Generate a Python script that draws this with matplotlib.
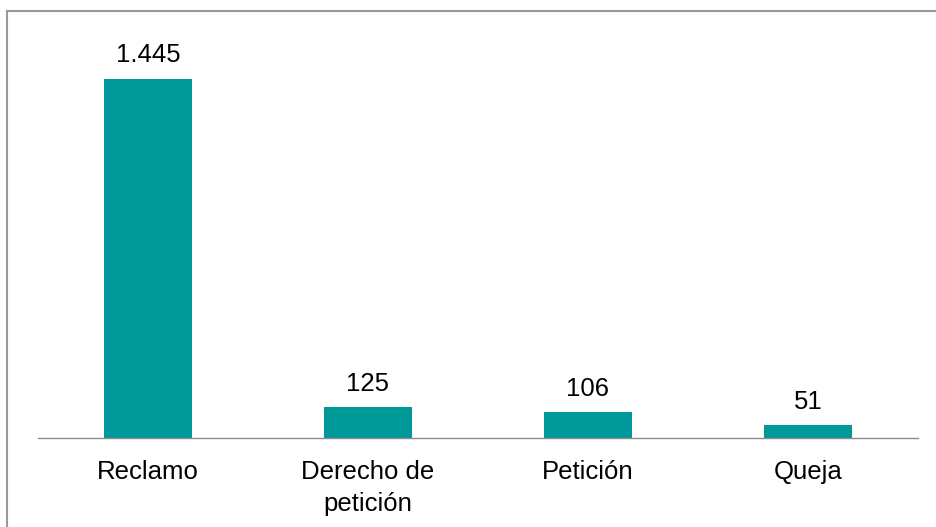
import matplotlib
matplotlib.use("Agg")
import matplotlib.pyplot as plt
from matplotlib.lines import Line2D

categories = ["Reclamo", "Derecho de\npetición", "Petición", "Queja"]
values = [1445, 125, 106, 51]
value_labels = ["1.445", "125", "106", "51"]

plt.rcParams['font.family'] = ['Liberation Sans', 'DejaVu Sans']

W, H = 936, 527
fig = plt.figure(figsize=(W/100, H/100), dpi=100)
ax = fig.add_axes([38/W, 1-438/H, 880/W, 398/H])

x = list(range(len(categories)))
ax.bar(x, values, width=0.4, color="#009999")
for xi, v, lab in zip(x, values, value_labels):
    ax.annotate(lab, (xi, v), xytext=(0, 8), textcoords="offset points",
                ha="center", va="bottom", fontsize=18.5, color="#000000")

ax.set_xlim(-0.5, len(categories) - 0.5)
ax.set_ylim(0, 1600)
ax.set_yticks([])
ax.set_xticks(x)
ax.set_xticklabels(categories, fontsize=18.5, linespacing=1.4)
ax.tick_params(axis="x", length=0, pad=16)
for s in ["top", "right", "left"]:
    ax.spines[s].set_visible(False)
ax.spines["bottom"].set_color("#8c8c8c")
ax.spines["bottom"].set_linewidth(1)

# outer frame (top and left edges visible)
fig.lines.append(Line2D([7.5/W, 1.0], [1-10.5/H, 1-10.5/H], transform=fig.transFigure,
                        color="#999999", linewidth=1.5))
fig.lines.append(Line2D([7.5/W, 7.5/W], [0, 1-10.5/H], transform=fig.transFigure,
                        color="#999999", linewidth=1.5))

fig.savefig("out.png", dpi=100)
